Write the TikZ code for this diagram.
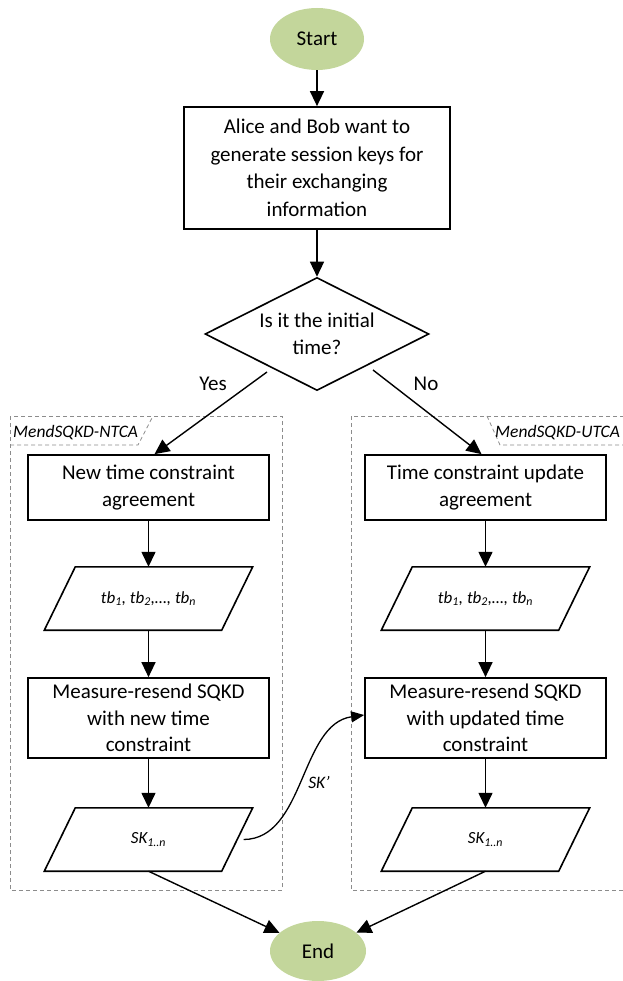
\documentclass[tikz,border=0pt]{standalone}
\usepackage{fontspec}
\setmainfont{Carlito}
\usetikzlibrary{shapes.geometric,arrows.meta,calc}
\definecolor{termgreen}{HTML}{C3D69B}
\definecolor{grpgray}{HTML}{8C8C8C}
\newcommand{\drawpara}[1]{%
  \draw[line width=1.6pt,line join=miter] ($(#1.north west)+(31,0)$) -- (#1.north east)
    -- ($(#1.south east)+(-31,0)$) -- (#1.south west) -- cycle;}
\begin{document}
\begin{tikzpicture}[x=1pt,y=-1pt,
  every node/.style={font=\fontsize{21}{27.5}\selectfont},
  term/.style={ellipse,fill=termgreen,draw=none,inner sep=0pt},
  procbox/.style={draw,line width=1.7pt,inner sep=0pt,align=center},
  iobox/.style={rectangle,draw=none,inner sep=0pt,
    minimum width=208pt,minimum height=63pt,
    font=\fontsize{17}{20}\selectfont\itshape},
  arr/.style={line width=1.4pt,-{Triangle[width=14pt,length=15pt]}},
  grp/.style={draw=grpgray,line width=0.8pt,dash pattern=on 4pt off 3pt},
  lbl/.style={font=\fontsize{17.5}{20}\selectfont\itshape,inner sep=0pt}
]
\useasboundingbox (0,0) rectangle (622,981);

% groups
\draw[grp] (10,416) rectangle (282,890);
\draw[grp] (351,416) rectangle (640,890);
\draw[grp] (10,445) -- (138,445) -- (153,416);
\draw[grp] (487,416) -- (500,445) -- (640,445);
\node[lbl,anchor=base west] (tabL) at (13,437) {MendSQKD-NTCA};
\node[lbl,anchor=base west] (tabR) at (495,437) {MendSQKD-UTCA};

% terminals
\node[term,minimum width=94pt,minimum height=62pt] (start) at (317,39) {Start};
\node[term,minimum width=96pt,minimum height=60pt] (end) at (318,951) {End};

% top process
\node[procbox,minimum width=266pt,minimum height=122pt] (alice) at (317,168)
  {Alice and Bob want to\\generate session keys for\\their exchanging\\information};

% decision
\node[diamond,draw,line width=1.6pt,inner sep=0pt,aspect=1.98,
  minimum width=224pt,minimum height=113pt,align=center] (dec) at (317,334)
  {Is it the initial\\time?};

% left column
\node[procbox,minimum width=241pt,minimum height=65pt] (ntca) at (148.5,487.5)
  {New time constraint\\agreement};
\node[iobox] (tbL) at (148.5,598.5) {tb\textsubscript{1}, tb\textsubscript{2},…, tb\textsubscript{n}};
\drawpara{tbL}
\node[procbox,minimum width=241pt,minimum height=80pt,
  font=\fontsize{21}{26.5}\selectfont] (mrL) at (148.5,718)
  {Measure-resend SQKD\\with new time\\constraint};
\node[iobox] (skL) at (148.5,839.5) {SK\textsubscript{1..n}};
\drawpara{skL}

% right column
\node[procbox,minimum width=241pt,minimum height=65pt] (utca) at (485.5,487.5)
  {Time constraint update\\agreement};
\node[iobox] (tbR) at (485.5,598.5) {tb\textsubscript{1}, tb\textsubscript{2},…, tb\textsubscript{n}};
\drawpara{tbR}
\node[procbox,minimum width=241pt,minimum height=80pt,
  font=\fontsize{21}{26.5}\selectfont] (mrR) at (485.5,718)
  {Measure-resend SQKD\\with updated time\\constraint};
\node[iobox] (skR) at (485.5,839.5) {SK\textsubscript{1..n}};
\drawpara{skR}

% labels
\node (yes) at (213,384) {Yes};
\node (no) at (426,384) {No};
\node[lbl] (skp) at (319,782) {SK’};

% connectors
\coordinate (yesS) at (267,372);
\coordinate (noS) at (373,370);
\coordinate (skOut) at ($(skL.east)+(-9,0)$);
\draw[arr] (start) -- (alice);
\draw[arr] (alice) -- (dec);
\draw[arr] (yesS) -- ([xshift=6pt]ntca.north);
\draw[arr] (noS) -- ([xshift=-4pt]utca.north);
\draw[arr] (ntca) -- (tbL);
\draw[arr] (tbL) -- (mrL);
\draw[arr] (mrL) -- (skL);
\draw[arr] (utca) -- (tbR);
\draw[arr] (tbR) -- (mrR);
\draw[arr] (mrR) -- (skR);
\draw[arr] (skL.south) -- (end);
\draw[arr] (skR.south) -- (end);
\draw[line width=1.3pt,-{Triangle[width=11pt,length=13pt]}] (skOut)
  .. controls (305,839) and (300,724) .. ([yshift=3pt]mrR.west);
\end{tikzpicture}
\end{document}
